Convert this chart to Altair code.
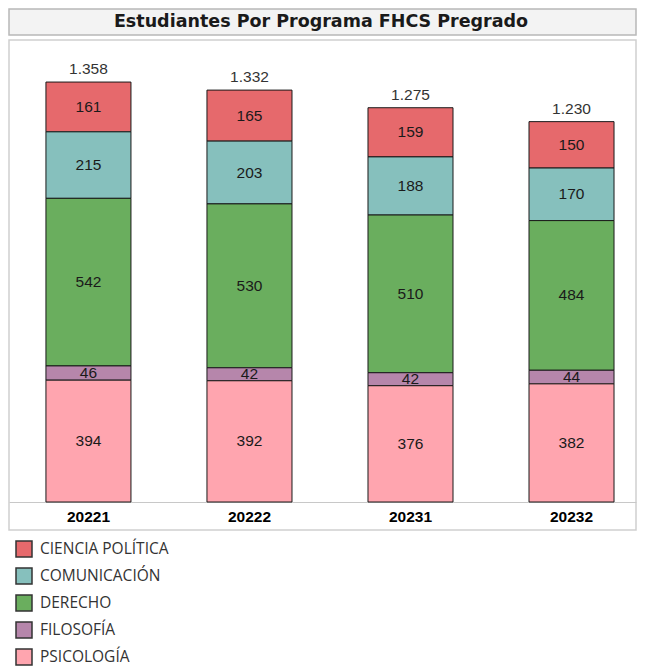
import altair as alt
import pandas as pd

periods = ["20221", "20222", "20231", "20232"]
programs = ["CIENCIA POLÍTICA", "COMUNICACIÓN", "DERECHO", "FILOSOFÍA", "PSICOLOGÍA"]
colors = ["#E6696C", "#86C0BD", "#6AAE5E", "#B686AB", "#FFA5AF"]
ciencia_politica = [161, 165, 159, 150]
comunicacion = [215, 203, 188, 170]
derecho = [542, 530, 510, 484]
filosofia = [46, 42, 42, 44]
psicologia = [394, 392, 376, 382]
total_labels = ["1.358", "1.332", "1.275", "1.230"]
title_text = "Estudiantes Por Programa FHCS Pregrado"

series = [ciencia_politica, comunicacion, derecho, filosofia, psicologia]
stack_rank = {"PSICOLOGÍA": 0, "FILOSOFÍA": 1, "DERECHO": 2, "COMUNICACIÓN": 3, "CIENCIA POLÍTICA": 4}
rows = []
for prog, vals in zip(programs, series):
    for per, v in zip(periods, vals):
        rows.append({"periodo": per, "programa": prog, "valor": v, "rank": stack_rank[prog]})
df = pd.DataFrame(rows)
tot = pd.DataFrame({
    "periodo": periods,
    "total": [sum(s[i] for s in series) for i in range(len(periods))],
    "label": total_labels,
})

W = 627
H = 490
xscale = alt.Scale(paddingInner=0.472, paddingOuter=0.183, align=0.627)
yscale = alt.Scale(domain=[0, 1494], range=[462, 0], nice=False)

base = alt.Chart(df)
bars = base.mark_bar(stroke="#1a1a1a", strokeWidth=1).encode(
    x=alt.X("periodo:N", scale=xscale, sort=periods,
            axis=alt.Axis(title=None, labelAngle=0, labelFont="Liberation Sans",
                          labelFontSize=15.5, labelFontWeight="bold", labelColor="#000",
                          ticks=False, domainColor="#c8c8c8", domainWidth=1,
                          offset=-28, labelPadding=7)),
    y=alt.Y("valor:Q", stack="zero", scale=yscale, axis=None),
    color=alt.Color("programa:N", sort=programs,
                    scale=alt.Scale(domain=programs, range=colors),
                    legend=alt.Legend(title=None, orient="none", legendX=6, legendY=531,
                                      symbolType="square", symbolSize=256,
                                      symbolStrokeColor="#333", symbolStrokeWidth=1.5,
                                      labelFont="Open Sans", labelFontSize=15.5,
                                      labelColor="#333", rowPadding=5.0,
                                      labelOffset=7, padding=0)),
    order=alt.Order("rank:Q", sort="ascending"),
)

seg_text = base.transform_stack(
    stack="valor", groupby=["periodo"], as_=["y0", "y1"],
    sort=[alt.SortField("rank", order="ascending")],
).transform_calculate(mid="(datum.y0 + datum.y1) / 2").mark_text(
    font="Liberation Sans", fontSize=15.5, color="#1a1a1a", baseline="middle"
).encode(
    x=alt.X("periodo:N", scale=xscale, sort=periods),
    y=alt.Y("mid:Q", scale=yscale),
    text=alt.Text("valor:Q"),
)

tot_text = alt.Chart(tot).mark_text(
    font="Liberation Sans", fontSize=15.5, color="#333", baseline="alphabetic", dy=-8
).encode(
    x=alt.X("periodo:N", scale=xscale, sort=periods),
    y=alt.Y("total:Q", scale=yscale),
    text="label:N",
)

main = alt.layer(bars, seg_text, tot_text).properties(
    width=W, height=H,
    view=alt.ViewBackground(fill="white", stroke="#cfcfcf", strokeWidth=1.5),
)

title_panel = alt.Chart(pd.DataFrame({"t": [title_text]})).mark_text(
    font="DejaVu Sans", fontWeight="bold", fontSize=17.5, color="#1a1a1a",
    baseline="middle", align="center"
).encode(
    text="t:N", x=alt.value(312), y=alt.value(13)
).properties(
    width=W, height=26,
    view=alt.ViewBackground(fill="#f3f3f3", stroke="#b8b8b8", strokeWidth=1.5),
)

chart = alt.vconcat(title_panel, main, spacing=3).properties(padding=0).configure(
    background="white"
)

chart.save("out.html", embed_options={"renderer": "svg", "actions": False})
